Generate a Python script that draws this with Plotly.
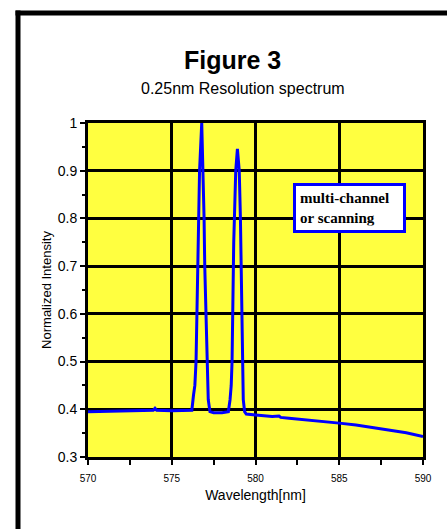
import plotly.graph_objects as go

# Spectrum
wavelength = [570, 571, 572, 573, 573.9, 574.0, 574.1, 575, 576, 576.2, 576.3, 576.38, 576.45,
              576.5, 576.57, 576.61, 576.66, 576.79, 576.88, 576.93, 576.97, 577.03, 577.08,
              577.12, 577.18, 577.28, 577.5, 578.0, 578.38, 578.48, 578.55, 578.6, 578.63,
              578.7, 578.74, 578.82, 578.92, 579.03, 579.1, 579.15, 579.2, 579.22, 579.27,
              579.35, 579.45, 580, 581, 581.4, 581.5, 582, 583, 584, 585, 586, 587, 588, 589, 590]
intensity = [0.395, 0.396, 0.397, 0.397, 0.398, 0.402, 0.398, 0.397, 0.397, 0.398, 0.43, 0.45, 0.5,
             0.6, 0.7, 0.8, 0.9, 1.0, 0.9, 0.8, 0.7, 0.6, 0.55,
             0.5, 0.42, 0.395, 0.393, 0.393, 0.395, 0.42, 0.45, 0.5, 0.6,
             0.75, 0.8, 0.9, 0.946, 0.9, 0.8, 0.7, 0.6, 0.5, 0.42,
             0.395, 0.39, 0.388, 0.385, 0.386, 0.383, 0.381, 0.378, 0.374, 0.371, 0.367, 0.362, 0.357, 0.351, 0.343]

title_text = "Figure 3"
subtitle_text = "0.25nm Resolution spectrum"
annotation_text = "multi-channel<br>or scanning"

ML, MR, MT, MB = 88, 25, 123, 72
W, H = 448, 529
PW, PH = W - ML - MR, H - MT - MB

def px(x):
    return (x - ML) / PW

def py(y):
    return (H - MB - y) / PH

fig = go.Figure()
fig.add_trace(go.Scatter(x=wavelength, y=intensity, mode="lines",
                         line=dict(color="#0000FF", width=3), showlegend=False))

border = dict(color="black", width=5)
fig.update_layout(
    width=W, height=H,
    margin=dict(l=ML, r=MR, t=MT, b=MB),
    paper_bgcolor="white",
    plot_bgcolor="#FFFF40",
    font=dict(family="Liberation Sans, Arial", color="black"),
    xaxis=dict(range=[570, 590], dtick=5, tick0=570, showgrid=True, gridcolor="black", gridwidth=3,
               showline=True, linecolor="black", linewidth=3, mirror=True,
               ticks="outside", ticklen=5, tickwidth=2, tickcolor="black",
               tickfont=dict(size=10), ticklabelstandoff=5, zeroline=False,
               minor=dict(dtick=2.5, ticks="outside", ticklen=5, tickwidth=2, tickcolor="black", showgrid=False),
               title=dict(text="Wavelength[nm]", font=dict(size=14), standoff=8)),
    yaxis=dict(range=[0.3, 1.0], dtick=0.1, tick0=0.3, showgrid=True, gridcolor="black", gridwidth=3,
               showline=True, linecolor="black", linewidth=3, mirror=True,
               ticks="outside", ticklen=5, tickwidth=2, tickcolor="black",
               tickfont=dict(size=14), zeroline=False,
               minor=dict(dtick=0.05, ticks="outside", ticklen=3, tickwidth=2, tickcolor="black", showgrid=False),
               title=dict(text="Normalized Intensity", font=dict(size=13), standoff=4)),
    shapes=[
        dict(type="line", xref="paper", yref="paper", x0=px(18), x1=px(18),
             y0=py(10.5), y1=py(560), line=border, layer="above"),
        dict(type="line", xref="paper", yref="paper", x0=px(15.5), x1=px(447),
             y0=py(13), y1=py(13), line=border, layer="above"),
    ],
    annotations=[
        dict(text="<b>" + title_text + "</b>", xref="paper", yref="paper", x=px(232), y=py(60),
             showarrow=False, font=dict(size=25), xanchor="center", yanchor="middle"),
        dict(text=subtitle_text, xref="paper", yref="paper", x=px(243), y=py(88),
             showarrow=False, font=dict(size=16), xanchor="center", yanchor="middle"),
        dict(text="<b>" + annotation_text + "</b>", xref="paper", yref="paper",
             x=px(293), y=py(183), xanchor="left", yanchor="top", showarrow=False, align="left",
             font=dict(family="Liberation Serif, Times New Roman", size=15),
             bgcolor="white", bordercolor="#0000FF", borderwidth=3, borderpad=4, width=99),
    ],
)

fig.write_html("out.html", config={"displayModeBar": False},
               post_script="document.documentElement.style.overflow='hidden';"
                           "document.body.style.margin='0';document.body.style.overflow='hidden';")
